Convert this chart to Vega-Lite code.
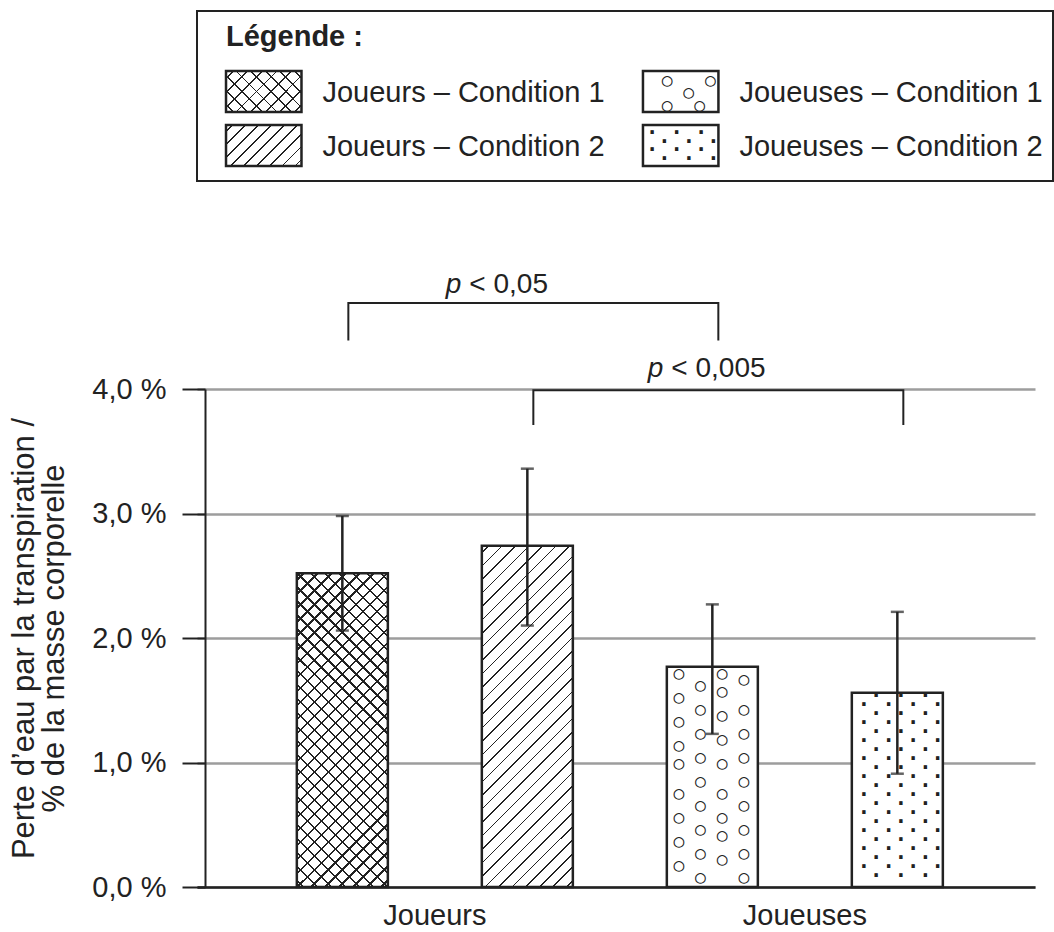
{
"$schema": "https://vega.github.io/schema/vega-lite/v6.json",
"background": "white",
"padding": {"left": 8, "top": 10, "right": 0, "bottom": 0},
"spacing": 89,
"config": {"font": "Liberation Sans", "view": {"stroke": null}},
"datasets": {
 "bars": [
  {"s": "Joueurs – Condition 1", "grp": "Joueurs", "cond": "Condition 1", "value": 2.52, "lo": 2.06, "hi": 2.98},
  {"s": "Joueurs – Condition 2", "grp": "Joueurs", "cond": "Condition 2", "value": 2.74, "lo": 2.10, "hi": 3.36},
  {"s": "Joueuses – Condition 1", "grp": "Joueuses", "cond": "Condition 1", "value": 1.77, "lo": 1.23, "hi": 2.27},
  {"s": "Joueuses – Condition 2", "grp": "Joueuses", "cond": "Condition 2", "value": 1.56, "lo": 0.91, "hi": 2.21}
 ],
 "brackets": [
  {"b": 1, "o": 1, "s": "Joueurs – Condition 1", "yv": 4.39},
  {"b": 1, "o": 2, "s": "Joueurs – Condition 1", "yv": 4.69},
  {"b": 1, "o": 3, "s": "Joueuses – Condition 1", "yv": 4.69},
  {"b": 1, "o": 4, "s": "Joueuses – Condition 1", "yv": 4.39},
  {"b": 2, "o": 1, "s": "Joueurs – Condition 2", "yv": 3.71},
  {"b": 2, "o": 2, "s": "Joueurs – Condition 2", "yv": 3.99},
  {"b": 2, "o": 3, "s": "Joueuses – Condition 2", "yv": 3.99},
  {"b": 2, "o": 4, "s": "Joueuses – Condition 2", "yv": 3.71}
 ],
 "annot": [
  {"s": "Joueurs – Condition 2", "yv": 4.77, "t": "< 0,05"},
  {"s": "Joueuses – Condition 1", "yv": 4.10, "t": "< 0,005"}
 ]
},
"vconcat": [
 {
  "width": 856, "height": 170,
  "view": {"stroke": "#222", "strokeWidth": 2, "fill": "white"},
  "title": {"text": "Légende :", "anchor": "start", "frame": "group", "fontSize": 29, "fontWeight": "bold", "color": "#222", "font": "Liberation Sans", "baseline": "alphabetic", "offset": 0, "dx": 29, "dy": 64},
  "data": {"name": "bars"},
  "encoding": {
   "x": {"field": "grp", "type": "nominal", "axis": null, "scale": {"type": "band", "domain": ["Joueurs", "Joueuses"], "paddingInner": 0.819, "paddingOuter": 0.436, "align": 0.0798}},
   "y": {"field": "cond", "type": "nominal", "axis": null, "scale": {"type": "band", "domain": ["Condition 1", "Condition 2"], "paddingInner": 0.2407, "paddingOuter": 0.6944, "align": 0.8}}
  },
  "layer": [
   {"mark": {"type": "rect", "fill": "white"}},
   {"transform": [{"filter": "datum.s == 'Joueurs – Condition 1'"}],
    "mark": {"type": "rect", "fill": {"gradient": "linear", "x1": 0, "y1": 0, "x2": 1.19163, "y2": 0.64711, "stops": [
     {"offset": 0.0546, "color": "#fff"}, {"offset": 0.0546, "color": "#222"}, {"offset": 0.0704, "color": "#222"}, {"offset": 0.0704, "color": "#fff"},
     {"offset": 0.1796, "color": "#fff"}, {"offset": 0.1796, "color": "#222"}, {"offset": 0.1954, "color": "#222"}, {"offset": 0.1954, "color": "#fff"},
     {"offset": 0.3046, "color": "#fff"}, {"offset": 0.3046, "color": "#222"}, {"offset": 0.3204, "color": "#222"}, {"offset": 0.3204, "color": "#fff"},
     {"offset": 0.4296, "color": "#fff"}, {"offset": 0.4296, "color": "#222"}, {"offset": 0.4454, "color": "#222"}, {"offset": 0.4454, "color": "#fff"},
     {"offset": 0.5546, "color": "#fff"}, {"offset": 0.5546, "color": "#222"}, {"offset": 0.5704, "color": "#222"}, {"offset": 0.5704, "color": "#fff"},
     {"offset": 0.6796, "color": "#fff"}, {"offset": 0.6796, "color": "#222"}, {"offset": 0.6954, "color": "#222"}, {"offset": 0.6954, "color": "#fff"},
     {"offset": 0.8046, "color": "#fff"}, {"offset": 0.8046, "color": "#222"}, {"offset": 0.8204, "color": "#222"}, {"offset": 0.8204, "color": "#fff"},
     {"offset": 0.9296, "color": "#fff"}, {"offset": 0.9296, "color": "#222"}, {"offset": 0.9454, "color": "#222"}, {"offset": 0.9454, "color": "#fff"}
    ]}}},
   {"transform": [{"filter": "datum.s == 'Joueurs – Condition 1'"}],
    "mark": {"type": "rect", "fill": {"gradient": "linear", "x1": 0, "y1": 1, "x2": 1.19163, "y2": 0.35289, "stops": [
     {"offset": 0.0546, "color": "transparent"}, {"offset": 0.0546, "color": "#222"}, {"offset": 0.0704, "color": "#222"}, {"offset": 0.0704, "color": "transparent"},
     {"offset": 0.1796, "color": "transparent"}, {"offset": 0.1796, "color": "#222"}, {"offset": 0.1954, "color": "#222"}, {"offset": 0.1954, "color": "transparent"},
     {"offset": 0.3046, "color": "transparent"}, {"offset": 0.3046, "color": "#222"}, {"offset": 0.3204, "color": "#222"}, {"offset": 0.3204, "color": "transparent"},
     {"offset": 0.4296, "color": "transparent"}, {"offset": 0.4296, "color": "#222"}, {"offset": 0.4454, "color": "#222"}, {"offset": 0.4454, "color": "transparent"},
     {"offset": 0.5546, "color": "transparent"}, {"offset": 0.5546, "color": "#222"}, {"offset": 0.5704, "color": "#222"}, {"offset": 0.5704, "color": "transparent"},
     {"offset": 0.6796, "color": "transparent"}, {"offset": 0.6796, "color": "#222"}, {"offset": 0.6954, "color": "#222"}, {"offset": 0.6954, "color": "transparent"},
     {"offset": 0.8046, "color": "transparent"}, {"offset": 0.8046, "color": "#222"}, {"offset": 0.8204, "color": "#222"}, {"offset": 0.8204, "color": "transparent"},
     {"offset": 0.9296, "color": "transparent"}, {"offset": 0.9296, "color": "#222"}, {"offset": 0.9454, "color": "#222"}, {"offset": 0.9454, "color": "transparent"}
    ]}}},
   {"transform": [{"filter": "datum.s == 'Joueurs – Condition 2'"}],
    "mark": {"type": "rect", "fill": {"gradient": "linear", "x1": 0, "y1": 0, "x2": 1.19163, "y2": 0.64711, "stops": [
     {"offset": 0.0477, "color": "#fff"}, {"offset": 0.0477, "color": "#222"}, {"offset": 0.0635, "color": "#222"}, {"offset": 0.0635, "color": "#fff"},
     {"offset": 0.1588, "color": "#fff"}, {"offset": 0.1588, "color": "#222"}, {"offset": 0.1746, "color": "#222"}, {"offset": 0.1746, "color": "#fff"},
     {"offset": 0.2699, "color": "#fff"}, {"offset": 0.2699, "color": "#222"}, {"offset": 0.2857, "color": "#222"}, {"offset": 0.2857, "color": "#fff"},
     {"offset": 0.3810, "color": "#fff"}, {"offset": 0.3810, "color": "#222"}, {"offset": 0.3968, "color": "#222"}, {"offset": 0.3968, "color": "#fff"},
     {"offset": 0.4921, "color": "#fff"}, {"offset": 0.4921, "color": "#222"}, {"offset": 0.5079, "color": "#222"}, {"offset": 0.5079, "color": "#fff"},
     {"offset": 0.6032, "color": "#fff"}, {"offset": 0.6032, "color": "#222"}, {"offset": 0.6190, "color": "#222"}, {"offset": 0.6190, "color": "#fff"},
     {"offset": 0.7143, "color": "#fff"}, {"offset": 0.7143, "color": "#222"}, {"offset": 0.7301, "color": "#222"}, {"offset": 0.7301, "color": "#fff"},
     {"offset": 0.8254, "color": "#fff"}, {"offset": 0.8254, "color": "#222"}, {"offset": 0.8412, "color": "#222"}, {"offset": 0.8412, "color": "#fff"},
     {"offset": 0.9365, "color": "#fff"}, {"offset": 0.9365, "color": "#222"}, {"offset": 0.9523, "color": "#222"}, {"offset": 0.9523, "color": "#fff"}
    ]}}},
   {"transform": [{"filter": "datum.s == 'Joueuses – Condition 1'"}],
    "mark": {"type": "text", "font": "DejaVu Sans Mono", "fontSize": 18, "lineHeight": 12.65, "align": "left", "baseline": "top", "dx": -3, "dy": 0.8, "color": "#222",
     "text": ["\u200d\u00a0\u00a0○\u00a0\u00a0\u00a0○", "\u200d\u00a0\u00a0\u00a0\u00a0○", "\u200d\u00a0\u00a0○\u00a0\u00a0○"]},
    "encoding": {"x": {"field": "grp", "type": "nominal", "bandPosition": 0}, "y": {"field": "cond", "type": "nominal", "bandPosition": 0}}},
   {"transform": [{"filter": "datum.s == 'Joueuses – Condition 2'"}],
    "mark": {"type": "text", "font": "DejaVu Sans Mono", "fontSize": 20.4, "fontWeight": "bold", "lineHeight": 8.5, "align": "left", "baseline": "top", "dx": 3, "dy": -0.5, "color": "#222",
     "text": ["·\u00a0·\u00a0·", "\u200d\u00a0·\u00a0·\u00a0·", "·\u00a0·\u00a0·", "\u200d\u00a0·\u00a0·\u00a0·"]},
    "encoding": {"x": {"field": "grp", "type": "nominal", "bandPosition": 0}, "y": {"field": "cond", "type": "nominal", "bandPosition": 0}}},
   {"mark": {"type": "rect", "fill": "white", "fillOpacity": 0, "stroke": "#222", "strokeWidth": 2.5}},
   {"mark": {"type": "text", "align": "left", "baseline": "middle", "dx": 21, "dy": 2, "fontSize": 29, "color": "#222"},
    "encoding": {"x": {"field": "grp", "type": "nominal", "bandPosition": 1}, "text": {"field": "s"}}}
  ]
 },
 {
  "width": 838, "height": 498,
  "data": {"name": "bars"},
  "encoding": {
   "x": {"field": "s", "type": "nominal", "sort": null,
    "scale": {"type": "band", "domain": ["Joueurs – Condition 1", "Joueurs – Condition 2", "Joueuses – Condition 1", "Joueuses – Condition 2"], "paddingInner": 0.508, "paddingOuter": 0.5189, "align": 0.52},
    "axis": {"title": null, "ticks": false, "grid": false, "domainColor": "#222", "domainWidth": 2.5,
     "labelExpr": "datum.value == 'Joueurs – Condition 1' ? 'Joueurs' : (datum.value == 'Joueuses – Condition 1' ? 'Joueuses' : '')",
     "labelOffset": 92.5, "labelAngle": 0, "labelFontSize": 29, "labelColor": "#222", "labelPadding": 14, "labelOverlap": false, "labelBound": false, "labelFlush": false, "labelLimit": 400}}
  },
  "layer": [
   {"mark": {"type": "bar", "fill": "white"},
    "encoding": {"y": {"field": "value", "type": "quantitative",
     "scale": {"domain": [0, 4], "nice": false, "zero": true},
     "axis": {"values": [0, 1, 2, 3, 4], "labelExpr": "replace(format(datum.value, '.1f'), '.', ',') + ' %'",
      "title": ["Perte d’eau par la transpiration /", "% de la masse corporelle"],
      "titleFontSize": 31, "titleFontWeight": "normal", "titleColor": "#222", "titleLineHeight": 30, "titlePadding": 21, "titleFont": "Liberation Sans",
      "labelFontSize": 29, "labelColor": "#222", "labelPadding": 16,
      "tickSize": 23, "tickWidth": 2, "tickColor": "#222", "domainColor": "#222", "domainWidth": 2,
      "grid": true, "gridColor": "#9d9d9d", "gridWidth": 2.5, "offset": -8}}}},
   {"transform": [{"filter": "datum.s == 'Joueurs – Condition 1'"}],
    "mark": {"type": "bar", "fill": {"gradient": "linear", "x1": 0, "y1": 0, "x2": 0.34514, "y2": 1.18994, "stops": [
     {"offset": 0.0144, "color": "#fff"}, {"offset": 0.0144, "color": "#222"}, {"offset": 0.0200, "color": "#222"}, {"offset": 0.0200, "color": "#fff"},
     {"offset": 0.0489, "color": "#fff"}, {"offset": 0.0489, "color": "#222"}, {"offset": 0.0545, "color": "#222"}, {"offset": 0.0545, "color": "#fff"},
     {"offset": 0.0834, "color": "#fff"}, {"offset": 0.0834, "color": "#222"}, {"offset": 0.0890, "color": "#222"}, {"offset": 0.0890, "color": "#fff"},
     {"offset": 0.1179, "color": "#fff"}, {"offset": 0.1179, "color": "#222"}, {"offset": 0.1235, "color": "#222"}, {"offset": 0.1235, "color": "#fff"},
     {"offset": 0.1524, "color": "#fff"}, {"offset": 0.1524, "color": "#222"}, {"offset": 0.1580, "color": "#222"}, {"offset": 0.1580, "color": "#fff"},
     {"offset": 0.1869, "color": "#fff"}, {"offset": 0.1869, "color": "#222"}, {"offset": 0.1925, "color": "#222"}, {"offset": 0.1925, "color": "#fff"},
     {"offset": 0.2213, "color": "#fff"}, {"offset": 0.2213, "color": "#222"}, {"offset": 0.2269, "color": "#222"}, {"offset": 0.2269, "color": "#fff"},
     {"offset": 0.2558, "color": "#fff"}, {"offset": 0.2558, "color": "#222"}, {"offset": 0.2614, "color": "#222"}, {"offset": 0.2614, "color": "#fff"},
     {"offset": 0.2903, "color": "#fff"}, {"offset": 0.2903, "color": "#222"}, {"offset": 0.2959, "color": "#222"}, {"offset": 0.2959, "color": "#fff"},
     {"offset": 0.3248, "color": "#fff"}, {"offset": 0.3248, "color": "#222"}, {"offset": 0.3304, "color": "#222"}, {"offset": 0.3304, "color": "#fff"},
     {"offset": 0.3593, "color": "#fff"}, {"offset": 0.3593, "color": "#222"}, {"offset": 0.3649, "color": "#222"}, {"offset": 0.3649, "color": "#fff"},
     {"offset": 0.3938, "color": "#fff"}, {"offset": 0.3938, "color": "#222"}, {"offset": 0.3994, "color": "#222"}, {"offset": 0.3994, "color": "#fff"},
     {"offset": 0.4282, "color": "#fff"}, {"offset": 0.4282, "color": "#222"}, {"offset": 0.4338, "color": "#222"}, {"offset": 0.4338, "color": "#fff"},
     {"offset": 0.4627, "color": "#fff"}, {"offset": 0.4627, "color": "#222"}, {"offset": 0.4683, "color": "#222"}, {"offset": 0.4683, "color": "#fff"},
     {"offset": 0.4972, "color": "#fff"}, {"offset": 0.4972, "color": "#222"}, {"offset": 0.5028, "color": "#222"}, {"offset": 0.5028, "color": "#fff"},
     {"offset": 0.5317, "color": "#fff"}, {"offset": 0.5317, "color": "#222"}, {"offset": 0.5373, "color": "#222"}, {"offset": 0.5373, "color": "#fff"},
     {"offset": 0.5662, "color": "#fff"}, {"offset": 0.5662, "color": "#222"}, {"offset": 0.5718, "color": "#222"}, {"offset": 0.5718, "color": "#fff"},
     {"offset": 0.6006, "color": "#fff"}, {"offset": 0.6006, "color": "#222"}, {"offset": 0.6062, "color": "#222"}, {"offset": 0.6062, "color": "#fff"},
     {"offset": 0.6351, "color": "#fff"}, {"offset": 0.6351, "color": "#222"}, {"offset": 0.6407, "color": "#222"}, {"offset": 0.6407, "color": "#fff"},
     {"offset": 0.6696, "color": "#fff"}, {"offset": 0.6696, "color": "#222"}, {"offset": 0.6752, "color": "#222"}, {"offset": 0.6752, "color": "#fff"},
     {"offset": 0.7041, "color": "#fff"}, {"offset": 0.7041, "color": "#222"}, {"offset": 0.7097, "color": "#222"}, {"offset": 0.7097, "color": "#fff"},
     {"offset": 0.7386, "color": "#fff"}, {"offset": 0.7386, "color": "#222"}, {"offset": 0.7442, "color": "#222"}, {"offset": 0.7442, "color": "#fff"},
     {"offset": 0.7731, "color": "#fff"}, {"offset": 0.7731, "color": "#222"}, {"offset": 0.7787, "color": "#222"}, {"offset": 0.7787, "color": "#fff"},
     {"offset": 0.8075, "color": "#fff"}, {"offset": 0.8075, "color": "#222"}, {"offset": 0.8131, "color": "#222"}, {"offset": 0.8131, "color": "#fff"},
     {"offset": 0.8420, "color": "#fff"}, {"offset": 0.8420, "color": "#222"}, {"offset": 0.8476, "color": "#222"}, {"offset": 0.8476, "color": "#fff"},
     {"offset": 0.8765, "color": "#fff"}, {"offset": 0.8765, "color": "#222"}, {"offset": 0.8821, "color": "#222"}, {"offset": 0.8821, "color": "#fff"},
     {"offset": 0.9110, "color": "#fff"}, {"offset": 0.9110, "color": "#222"}, {"offset": 0.9166, "color": "#222"}, {"offset": 0.9166, "color": "#fff"},
     {"offset": 0.9455, "color": "#fff"}, {"offset": 0.9455, "color": "#222"}, {"offset": 0.9511, "color": "#222"}, {"offset": 0.9511, "color": "#fff"},
     {"offset": 0.9800, "color": "#fff"}, {"offset": 0.9800, "color": "#222"}, {"offset": 0.9856, "color": "#222"}, {"offset": 0.9856, "color": "#fff"}
    ]}},
    "encoding": {"y": {"field": "value", "type": "quantitative"}}},
   {"transform": [{"filter": "datum.s == 'Joueurs – Condition 1'"}],
    "mark": {"type": "bar", "fill": {"gradient": "linear", "x1": 0, "y1": 1, "x2": 0.34514, "y2": -0.18994, "stops": [
     {"offset": 0.0144, "color": "transparent"}, {"offset": 0.0144, "color": "#222"}, {"offset": 0.0200, "color": "#222"}, {"offset": 0.0200, "color": "transparent"},
     {"offset": 0.0489, "color": "transparent"}, {"offset": 0.0489, "color": "#222"}, {"offset": 0.0545, "color": "#222"}, {"offset": 0.0545, "color": "transparent"},
     {"offset": 0.0834, "color": "transparent"}, {"offset": 0.0834, "color": "#222"}, {"offset": 0.0890, "color": "#222"}, {"offset": 0.0890, "color": "transparent"},
     {"offset": 0.1179, "color": "transparent"}, {"offset": 0.1179, "color": "#222"}, {"offset": 0.1235, "color": "#222"}, {"offset": 0.1235, "color": "transparent"},
     {"offset": 0.1524, "color": "transparent"}, {"offset": 0.1524, "color": "#222"}, {"offset": 0.1580, "color": "#222"}, {"offset": 0.1580, "color": "transparent"},
     {"offset": 0.1869, "color": "transparent"}, {"offset": 0.1869, "color": "#222"}, {"offset": 0.1925, "color": "#222"}, {"offset": 0.1925, "color": "transparent"},
     {"offset": 0.2213, "color": "transparent"}, {"offset": 0.2213, "color": "#222"}, {"offset": 0.2269, "color": "#222"}, {"offset": 0.2269, "color": "transparent"},
     {"offset": 0.2558, "color": "transparent"}, {"offset": 0.2558, "color": "#222"}, {"offset": 0.2614, "color": "#222"}, {"offset": 0.2614, "color": "transparent"},
     {"offset": 0.2903, "color": "transparent"}, {"offset": 0.2903, "color": "#222"}, {"offset": 0.2959, "color": "#222"}, {"offset": 0.2959, "color": "transparent"},
     {"offset": 0.3248, "color": "transparent"}, {"offset": 0.3248, "color": "#222"}, {"offset": 0.3304, "color": "#222"}, {"offset": 0.3304, "color": "transparent"},
     {"offset": 0.3593, "color": "transparent"}, {"offset": 0.3593, "color": "#222"}, {"offset": 0.3649, "color": "#222"}, {"offset": 0.3649, "color": "transparent"},
     {"offset": 0.3938, "color": "transparent"}, {"offset": 0.3938, "color": "#222"}, {"offset": 0.3994, "color": "#222"}, {"offset": 0.3994, "color": "transparent"},
     {"offset": 0.4282, "color": "transparent"}, {"offset": 0.4282, "color": "#222"}, {"offset": 0.4338, "color": "#222"}, {"offset": 0.4338, "color": "transparent"},
     {"offset": 0.4627, "color": "transparent"}, {"offset": 0.4627, "color": "#222"}, {"offset": 0.4683, "color": "#222"}, {"offset": 0.4683, "color": "transparent"},
     {"offset": 0.4972, "color": "transparent"}, {"offset": 0.4972, "color": "#222"}, {"offset": 0.5028, "color": "#222"}, {"offset": 0.5028, "color": "transparent"},
     {"offset": 0.5317, "color": "transparent"}, {"offset": 0.5317, "color": "#222"}, {"offset": 0.5373, "color": "#222"}, {"offset": 0.5373, "color": "transparent"},
     {"offset": 0.5662, "color": "transparent"}, {"offset": 0.5662, "color": "#222"}, {"offset": 0.5718, "color": "#222"}, {"offset": 0.5718, "color": "transparent"},
     {"offset": 0.6006, "color": "transparent"}, {"offset": 0.6006, "color": "#222"}, {"offset": 0.6062, "color": "#222"}, {"offset": 0.6062, "color": "transparent"},
     {"offset": 0.6351, "color": "transparent"}, {"offset": 0.6351, "color": "#222"}, {"offset": 0.6407, "color": "#222"}, {"offset": 0.6407, "color": "transparent"},
     {"offset": 0.6696, "color": "transparent"}, {"offset": 0.6696, "color": "#222"}, {"offset": 0.6752, "color": "#222"}, {"offset": 0.6752, "color": "transparent"},
     {"offset": 0.7041, "color": "transparent"}, {"offset": 0.7041, "color": "#222"}, {"offset": 0.7097, "color": "#222"}, {"offset": 0.7097, "color": "transparent"},
     {"offset": 0.7386, "color": "transparent"}, {"offset": 0.7386, "color": "#222"}, {"offset": 0.7442, "color": "#222"}, {"offset": 0.7442, "color": "transparent"},
     {"offset": 0.7731, "color": "transparent"}, {"offset": 0.7731, "color": "#222"}, {"offset": 0.7787, "color": "#222"}, {"offset": 0.7787, "color": "transparent"},
     {"offset": 0.8075, "color": "transparent"}, {"offset": 0.8075, "color": "#222"}, {"offset": 0.8131, "color": "#222"}, {"offset": 0.8131, "color": "transparent"},
     {"offset": 0.8420, "color": "transparent"}, {"offset": 0.8420, "color": "#222"}, {"offset": 0.8476, "color": "#222"}, {"offset": 0.8476, "color": "transparent"},
     {"offset": 0.8765, "color": "transparent"}, {"offset": 0.8765, "color": "#222"}, {"offset": 0.8821, "color": "#222"}, {"offset": 0.8821, "color": "transparent"},
     {"offset": 0.9110, "color": "transparent"}, {"offset": 0.9110, "color": "#222"}, {"offset": 0.9166, "color": "#222"}, {"offset": 0.9166, "color": "transparent"},
     {"offset": 0.9455, "color": "transparent"}, {"offset": 0.9455, "color": "#222"}, {"offset": 0.9511, "color": "#222"}, {"offset": 0.9511, "color": "transparent"},
     {"offset": 0.9800, "color": "transparent"}, {"offset": 0.9800, "color": "#222"}, {"offset": 0.9856, "color": "#222"}, {"offset": 0.9856, "color": "transparent"}
    ]}},
    "encoding": {"y": {"field": "value", "type": "quantitative"}}},
   {"transform": [{"filter": "datum.s == 'Joueurs – Condition 2'"}],
    "mark": {"type": "bar", "fill": {"gradient": "linear", "x1": 0, "y1": 0, "x2": 0.31547, "y2": 1.18261, "stops": [
     {"offset": 0.0135, "color": "#fff"}, {"offset": 0.0135, "color": "#222"}, {"offset": 0.0177, "color": "#222"}, {"offset": 0.0177, "color": "#fff"},
     {"offset": 0.0448, "color": "#fff"}, {"offset": 0.0448, "color": "#222"}, {"offset": 0.0490, "color": "#222"}, {"offset": 0.0490, "color": "#fff"},
     {"offset": 0.0760, "color": "#fff"}, {"offset": 0.0760, "color": "#222"}, {"offset": 0.0802, "color": "#222"}, {"offset": 0.0802, "color": "#fff"},
     {"offset": 0.1073, "color": "#fff"}, {"offset": 0.1073, "color": "#222"}, {"offset": 0.1115, "color": "#222"}, {"offset": 0.1115, "color": "#fff"},
     {"offset": 0.1385, "color": "#fff"}, {"offset": 0.1385, "color": "#222"}, {"offset": 0.1427, "color": "#222"}, {"offset": 0.1427, "color": "#fff"},
     {"offset": 0.1698, "color": "#fff"}, {"offset": 0.1698, "color": "#222"}, {"offset": 0.1740, "color": "#222"}, {"offset": 0.1740, "color": "#fff"},
     {"offset": 0.2010, "color": "#fff"}, {"offset": 0.2010, "color": "#222"}, {"offset": 0.2052, "color": "#222"}, {"offset": 0.2052, "color": "#fff"},
     {"offset": 0.2323, "color": "#fff"}, {"offset": 0.2323, "color": "#222"}, {"offset": 0.2365, "color": "#222"}, {"offset": 0.2365, "color": "#fff"},
     {"offset": 0.2635, "color": "#fff"}, {"offset": 0.2635, "color": "#222"}, {"offset": 0.2677, "color": "#222"}, {"offset": 0.2677, "color": "#fff"},
     {"offset": 0.2948, "color": "#fff"}, {"offset": 0.2948, "color": "#222"}, {"offset": 0.2990, "color": "#222"}, {"offset": 0.2990, "color": "#fff"},
     {"offset": 0.3260, "color": "#fff"}, {"offset": 0.3260, "color": "#222"}, {"offset": 0.3302, "color": "#222"}, {"offset": 0.3302, "color": "#fff"},
     {"offset": 0.3573, "color": "#fff"}, {"offset": 0.3573, "color": "#222"}, {"offset": 0.3615, "color": "#222"}, {"offset": 0.3615, "color": "#fff"},
     {"offset": 0.3885, "color": "#fff"}, {"offset": 0.3885, "color": "#222"}, {"offset": 0.3927, "color": "#222"}, {"offset": 0.3927, "color": "#fff"},
     {"offset": 0.4198, "color": "#fff"}, {"offset": 0.4198, "color": "#222"}, {"offset": 0.4240, "color": "#222"}, {"offset": 0.4240, "color": "#fff"},
     {"offset": 0.4510, "color": "#fff"}, {"offset": 0.4510, "color": "#222"}, {"offset": 0.4552, "color": "#222"}, {"offset": 0.4552, "color": "#fff"},
     {"offset": 0.4823, "color": "#fff"}, {"offset": 0.4823, "color": "#222"}, {"offset": 0.4865, "color": "#222"}, {"offset": 0.4865, "color": "#fff"},
     {"offset": 0.5135, "color": "#fff"}, {"offset": 0.5135, "color": "#222"}, {"offset": 0.5177, "color": "#222"}, {"offset": 0.5177, "color": "#fff"},
     {"offset": 0.5448, "color": "#fff"}, {"offset": 0.5448, "color": "#222"}, {"offset": 0.5490, "color": "#222"}, {"offset": 0.5490, "color": "#fff"},
     {"offset": 0.5760, "color": "#fff"}, {"offset": 0.5760, "color": "#222"}, {"offset": 0.5802, "color": "#222"}, {"offset": 0.5802, "color": "#fff"},
     {"offset": 0.6073, "color": "#fff"}, {"offset": 0.6073, "color": "#222"}, {"offset": 0.6115, "color": "#222"}, {"offset": 0.6115, "color": "#fff"},
     {"offset": 0.6385, "color": "#fff"}, {"offset": 0.6385, "color": "#222"}, {"offset": 0.6427, "color": "#222"}, {"offset": 0.6427, "color": "#fff"},
     {"offset": 0.6698, "color": "#fff"}, {"offset": 0.6698, "color": "#222"}, {"offset": 0.6740, "color": "#222"}, {"offset": 0.6740, "color": "#fff"},
     {"offset": 0.7010, "color": "#fff"}, {"offset": 0.7010, "color": "#222"}, {"offset": 0.7052, "color": "#222"}, {"offset": 0.7052, "color": "#fff"},
     {"offset": 0.7323, "color": "#fff"}, {"offset": 0.7323, "color": "#222"}, {"offset": 0.7365, "color": "#222"}, {"offset": 0.7365, "color": "#fff"},
     {"offset": 0.7635, "color": "#fff"}, {"offset": 0.7635, "color": "#222"}, {"offset": 0.7677, "color": "#222"}, {"offset": 0.7677, "color": "#fff"},
     {"offset": 0.7948, "color": "#fff"}, {"offset": 0.7948, "color": "#222"}, {"offset": 0.7990, "color": "#222"}, {"offset": 0.7990, "color": "#fff"},
     {"offset": 0.8260, "color": "#fff"}, {"offset": 0.8260, "color": "#222"}, {"offset": 0.8302, "color": "#222"}, {"offset": 0.8302, "color": "#fff"},
     {"offset": 0.8573, "color": "#fff"}, {"offset": 0.8573, "color": "#222"}, {"offset": 0.8615, "color": "#222"}, {"offset": 0.8615, "color": "#fff"},
     {"offset": 0.8885, "color": "#fff"}, {"offset": 0.8885, "color": "#222"}, {"offset": 0.8927, "color": "#222"}, {"offset": 0.8927, "color": "#fff"},
     {"offset": 0.9198, "color": "#fff"}, {"offset": 0.9198, "color": "#222"}, {"offset": 0.9240, "color": "#222"}, {"offset": 0.9240, "color": "#fff"},
     {"offset": 0.9510, "color": "#fff"}, {"offset": 0.9510, "color": "#222"}, {"offset": 0.9552, "color": "#222"}, {"offset": 0.9552, "color": "#fff"},
     {"offset": 0.9823, "color": "#fff"}, {"offset": 0.9823, "color": "#222"}, {"offset": 0.9865, "color": "#222"}, {"offset": 0.9865, "color": "#fff"}
    ]}},
    "encoding": {"y": {"field": "value", "type": "quantitative"}}},
   {"transform": [{"filter": "datum.s == 'Joueuses – Condition 1'"}],
    "mark": {"type": "text", "font": "DejaVu Sans Mono", "fontSize": 18, "lineHeight": 6, "align": "left", "baseline": "top", "dx": 6.6, "dy": -7.5, "color": "#222",
     "text": ["\u200d\u00a0", "○\u00a0\u00a0\u00a0○", "\u200d\u00a0\u00a0\u00a0\u00a0\u00a0\u00a0○", "\u200d\u00a0\u00a0○", "\u200d\u00a0\u00a0\u00a0\u00a0○", "○", "\u200d\u00a0",
      "\u200d\u00a0\u00a0○\u00a0\u00a0\u00a0○", "\u200d\u00a0\u00a0\u00a0\u00a0○", "○", "\u200d\u00a0",
      "\u200d\u00a0\u00a0○\u00a0\u00a0\u00a0○", "\u200d\u00a0\u00a0\u00a0\u00a0○", "○", "\u200d\u00a0",
      "\u200d\u00a0\u00a0○\u00a0\u00a0\u00a0○", "○\u00a0\u00a0\u00a0○", "\u200d\u00a0", "\u200d\u00a0",
      "\u200d\u00a0\u00a0○\u00a0\u00a0\u00a0○", "\u200d\u00a0", "○\u00a0\u00a0\u00a0○", "\u200d\u00a0",
      "\u200d\u00a0\u00a0○\u00a0\u00a0\u00a0○", "\u200d\u00a0", "○\u00a0\u00a0\u00a0○", "\u200d\u00a0",
      "\u200d\u00a0\u00a0○\u00a0\u00a0\u00a0○", "\u200d\u00a0\u00a0\u00a0\u00a0○", "○", "\u200d\u00a0",
      "\u200d\u00a0\u00a0○\u00a0\u00a0\u00a0○", "\u200d\u00a0\u00a0\u00a0\u00a0○", "○", "\u200d\u00a0",
      "\u200d\u00a0\u00a0○\u00a0\u00a0\u00a0○"]},
    "encoding": {"x": {"field": "s", "type": "nominal", "bandPosition": 0}, "y": {"field": "value", "type": "quantitative"}}},
   {"transform": [{"filter": "datum.s == 'Joueuses – Condition 2'"}],
    "mark": {"type": "text", "font": "DejaVu Sans Mono", "fontSize": 20.4, "fontWeight": "bold", "lineHeight": 9, "align": "left", "baseline": "top", "dx": 6, "dy": -6, "color": "#222",
     "text": ["\u200d\u00a0·\u00a0·\u00a0·", "·\u00a0·\u00a0·\u00a0·",
      "\u200d\u00a0·\u00a0·\u00a0·", "·\u00a0·\u00a0·\u00a0·",
      "\u200d\u00a0·\u00a0·\u00a0·", "·\u00a0·\u00a0·\u00a0·",
      "\u200d\u00a0·\u00a0·\u00a0·", "·\u00a0·\u00a0·\u00a0·",
      "\u200d\u00a0·\u00a0·\u00a0·", "·\u00a0·\u00a0·\u00a0·",
      "\u200d\u00a0·\u00a0·\u00a0·", "·\u00a0·\u00a0·\u00a0·",
      "\u200d\u00a0·\u00a0·\u00a0·", "·\u00a0·\u00a0·\u00a0·",
      "\u200d\u00a0·\u00a0·\u00a0·", "·\u00a0·\u00a0·\u00a0·",
      "\u200d\u00a0·\u00a0·\u00a0·", "·\u00a0·\u00a0·\u00a0·",
      "\u200d\u00a0·\u00a0·\u00a0·", "·\u00a0·\u00a0·\u00a0·",
      "\u200d\u00a0·\u00a0·\u00a0·"]},
    "encoding": {"x": {"field": "s", "type": "nominal", "bandPosition": 0}, "y": {"field": "value", "type": "quantitative"}}},
   {"mark": {"type": "bar", "fill": "white", "fillOpacity": 0, "stroke": "#222", "strokeWidth": 2.5},
    "encoding": {"y": {"field": "value", "type": "quantitative"}}},
   {"mark": {"type": "rule", "color": "#222", "strokeWidth": 2.5},
    "encoding": {"y": {"field": "lo", "type": "quantitative"}, "y2": {"field": "hi"}}},
   {"mark": {"type": "tick", "color": "#222", "size": 13, "thickness": 2.5},
    "encoding": {"y": {"field": "lo", "type": "quantitative"}}},
   {"mark": {"type": "tick", "color": "#222", "size": 13, "thickness": 2.5},
    "encoding": {"y": {"field": "hi", "type": "quantitative"}}},
   {"data": {"name": "brackets"},
    "mark": {"type": "line", "color": "#222", "strokeWidth": 2, "xOffset": 6},
    "encoding": {"y": {"field": "yv", "type": "quantitative"}, "detail": {"field": "b"}, "order": {"field": "o"}}},
   {"data": {"name": "annot"}, "transform": [{"filter": "datum.t == '< 0,05'"}],
    "mark": {"type": "text", "text": "p", "fontStyle": "italic", "fontSize": 28, "align": "right", "baseline": "alphabetic", "dx": -66, "color": "#222"},
    "encoding": {"y": {"field": "yv", "type": "quantitative"}}},
   {"data": {"name": "annot"}, "transform": [{"filter": "datum.t == '< 0,05'"}],
    "mark": {"type": "text", "fontSize": 28, "align": "left", "baseline": "alphabetic", "dx": -58, "color": "#222"},
    "encoding": {"y": {"field": "yv", "type": "quantitative"}, "text": {"field": "t"}}},
   {"data": {"name": "annot"}, "transform": [{"filter": "datum.t == '< 0,005'"}],
    "mark": {"type": "text", "text": "p", "fontStyle": "italic", "fontSize": 28, "align": "right", "baseline": "alphabetic", "dx": -49, "color": "#222"},
    "encoding": {"y": {"field": "yv", "type": "quantitative"}}},
   {"data": {"name": "annot"}, "transform": [{"filter": "datum.t == '< 0,005'"}],
    "mark": {"type": "text", "fontSize": 28, "align": "left", "baseline": "alphabetic", "dx": -41, "color": "#222"},
    "encoding": {"y": {"field": "yv", "type": "quantitative"}, "text": {"field": "t"}}}
  ]
 }
]
}
